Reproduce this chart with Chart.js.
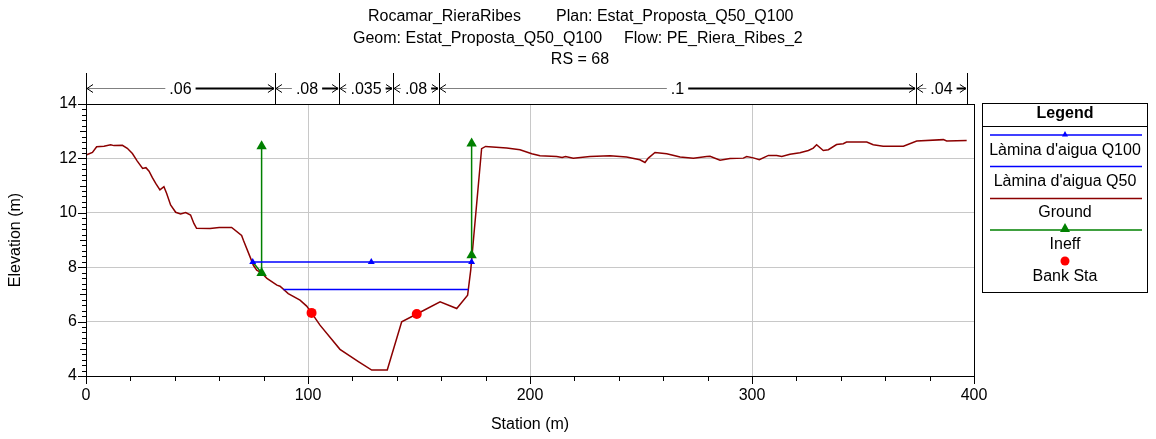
<!DOCTYPE html>
<html>
<head>
<meta charset="utf-8">
<script src="https://cdn.jsdelivr.net/npm/chart.js@4.4.1/dist/chart.umd.min.js"></script>
<style>
  html, body { margin: 0; padding: 0; background: #fff; }
  #wrap { width: 1156px; height: 439px; position: relative; }
</style>
</head>
<body>
<div id="wrap"><canvas id="c" width="1156" height="439"></canvas></div>
<script>
// ---- data ----
const groundStation = [0, 2.9, 4.8, 8.1, 11.1, 12.6, 16.4, 18.6, 20.9, 23.1, 25.5, 27.0, 28.4, 29.9, 31.4, 33.3, 35.1, 36.3, 38.1, 40.4, 42.6, 44.9, 47.1, 48.6, 49.8, 55.9, 60.0, 65.6, 70.1, 70.9, 73.9, 75.4, 76.9, 79.1, 81.5, 86.0, 87.4, 91.1, 96.4, 99.4, 101.6, 105.4, 114.4, 122.7, 128.7, 135.7, 142.2, 149.0, 159.5, 167.0, 171.9, 173.3, 178.2, 180.0, 189.5, 195.5, 200.8, 204.5, 212.0, 214.5, 216.0, 219.5, 227.0, 236.0, 243.5, 249.5, 251.8, 253.3, 256.3, 261.6, 267.6, 273.6, 279.6, 281.1, 285.6, 290.1, 296.1, 297.6, 300.6, 303.3, 307.4, 311.1, 313.4, 317.1, 321.6, 325.4, 327.6, 329.1, 332.1, 334.4, 338.1, 341.1, 342.6, 351.7, 354.6, 359.1, 368.2, 374.2, 386.2, 387.7, 396.7];
const groundElev = [12.12, 12.22, 12.43, 12.45, 12.50, 12.47, 12.48, 12.37, 12.18, 11.90, 11.63, 11.66, 11.53, 11.29, 11.08, 10.84, 10.96, 10.72, 10.29, 10.02, 9.96, 10.01, 9.92, 9.61, 9.43, 9.42, 9.46, 9.46, 9.17, 8.99, 8.38, 8.07, 7.89, 7.79, 7.59, 7.34, 7.30, 7.03, 6.79, 6.57, 6.32, 5.87, 4.98, 4.53, 4.22, 4.22, 5.99, 6.28, 6.73, 6.48, 6.97, 7.89, 12.36, 12.44, 12.38, 12.32, 12.17, 12.10, 12.07, 12.03, 12.07, 12.01, 12.07, 12.10, 12.05, 11.95, 11.85, 12.01, 12.22, 12.17, 12.05, 12.01, 12.07, 12.08, 11.93, 12.00, 12.01, 12.07, 12.02, 11.95, 12.11, 12.11, 12.07, 12.15, 12.21, 12.29, 12.38, 12.50, 12.29, 12.32, 12.51, 12.54, 12.60, 12.60, 12.50, 12.45, 12.45, 12.64, 12.69, 12.64, 12.66];

const q100Station = [75.1, 128.5, 173.7];
const q100Elev = [8.19, 8.19, 8.19];
const q50Station = [88.9, 172.2];
const q50Elev = [7.18, 7.18];

const ineffLeftStation = [75.1, 79.1, 79.1];
const ineffLeftElev = [8.19, 7.79, 12.45];
const ineffRightStation = [173.7, 173.7];
const ineffRightElev = [8.44, 12.55];

const bankStation = [101.6, 149.0];
const bankElev = [6.32, 6.28];

const nBreaks = [0, 85.1, 114.0, 138.3, 159.0, 373.9, 396.8];
const nValues = ['.06', '.08', '.035', '.08', '.1', '.04'];

const xTicksMajor = [0, 100, 200, 300, 400];
const yTicksMajor = [4, 6, 8, 10, 12, 14];

const titleLine1 = ['Rocamar_RieraRibes', 'Plan: Estat_Proposta_Q50_Q100'];
const titleLine2 = ['Geom: Estat_Proposta_Q50_Q100', 'Flow: PE_Riera_Ribes_2'];
const titleLine3 = 'RS = 68';
const legendItems = ["Làmina d'aigua Q100", "Làmina d'aigua Q50", 'Ground', 'Ineff', 'Bank Sta'];

// ---- helpers ----
const zip = (xs, ys) => xs.map((x, i) => ({ x: x, y: ys[i] }));
const FONT = '"Liberation Sans", Arial, Helvetica, sans-serif';
const FS = 16;

const C_GROUND = '#8b0000';
const C_BLUE = '#0000ff';
const C_GREEN = '#008000';
const C_RED = '#ff0000';

const extras = {
  id: 'extras',
  afterDraw(chart) {
    const ctx = chart.ctx;
    const xs = chart.scales.x, ys = chart.scales.y;
    const ca = chart.chartArea;
    ctx.save();

    // frame
    ctx.strokeStyle = '#000';
    ctx.lineWidth = 1;
    ctx.strokeRect(Math.round(ca.left) + 0.5, Math.round(ca.top) + 0.5, Math.round(ca.right - ca.left), Math.round(ca.bottom - ca.top));

    // y ticks (minor every 0.2)
    ctx.beginPath();
    for (let i = 0; i <= 50; i++) {
      const v = ys.min + i * 0.2;
      const py = Math.round(ys.getPixelForValue(v)) + 0.5;
      const major = (i % 10 === 0);
      const len = major ? 8 : (i % 5 === 0 ? 6 : 4);
      ctx.moveTo(ca.left, py);
      ctx.lineTo(ca.left - len, py);
    }
    // x ticks (minor every 20)
    for (let i = 0; i <= 20; i++) {
      const v = xs.min + i * 20;
      const px = Math.round(xs.getPixelForValue(v)) + 0.5;
      const len = (i % 5 === 0) ? 8 : 5;
      ctx.moveTo(px, ca.bottom);
      ctx.lineTo(px, ca.bottom + len);
    }
    ctx.stroke();

    // titles
    ctx.fillStyle = '#000';
    ctx.font = FS + 'px ' + FONT;
    ctx.textBaseline = 'middle';
    ctx.textAlign = 'left';
    ctx.fillText(titleLine1[0], 368, 17);
    ctx.fillText(titleLine1[1], 556, 17);
    ctx.fillText(titleLine2[0], 353, 39);
    ctx.fillText(titleLine2[1], 624, 39);
    ctx.textAlign = 'center';
    ctx.fillText(titleLine3, 580, 60);

    // axis titles
    ctx.fillText('Station (m)', (ca.left + ca.right) / 2, 425);
    ctx.save();
    ctx.translate(16, 240);
    ctx.rotate(-Math.PI / 2);
    ctx.fillText('Elevation (m)', 0, 0);
    ctx.restore();

    // Manning's n bar
    const barY = 88.5;
    ctx.strokeStyle = '#000';
    ctx.lineWidth = 1;
    nBreaks.forEach(b => {
      const px = Math.round(xs.getPixelForValue(b)) + 0.5;
      ctx.beginPath();
      ctx.moveTo(px, 73);
      ctx.lineTo(px, ca.top);
      ctx.stroke();
    });
    ctx.font = FS + 'px ' + FONT;
    for (let i = 0; i < nValues.length; i++) {
      const x0 = xs.getPixelForValue(nBreaks[i]);
      const x1 = xs.getPixelForValue(nBreaks[i + 1]);
      const cx = (x0 + x1) / 2;
      const tw = ctx.measureText(nValues[i]).width;
      const gap = 4;
      // gray left part
      ctx.strokeStyle = '#808080';
      ctx.lineWidth = 1;
      ctx.beginPath();
      ctx.moveTo(x0 + 1, barY);
      ctx.lineTo(cx - tw / 2 - gap, barY);
      ctx.stroke();
      // black right part
      ctx.strokeStyle = '#000';
      ctx.lineWidth = 2;
      ctx.beginPath();
      ctx.moveTo(cx + tw / 2 + gap, barY);
      ctx.lineTo(x1 - 1, barY);
      ctx.stroke();
      // arrowheads
      ctx.lineWidth = 1;
      ctx.beginPath();
      ctx.moveTo(x0 + 7, barY - 4);
      ctx.lineTo(x0 + 1, barY);
      ctx.lineTo(x0 + 7, barY + 4);
      ctx.moveTo(x1 - 7, barY - 4);
      ctx.lineTo(x1 - 1, barY);
      ctx.lineTo(x1 - 7, barY + 4);
      ctx.stroke();
      ctx.fillStyle = '#000';
      ctx.textAlign = 'center';
      ctx.fillText(nValues[i], cx, barY + 1);
    }

    // legend
    const L = 982.5, T = 103.5, R = 1147.5, B = 292.5;
    const lx0 = 990, lx1 = 1142, lcx = (L + R) / 2;
    ctx.strokeStyle = '#000';
    ctx.lineWidth = 1;
    ctx.strokeRect(L, T, R - L, B - T);
    ctx.beginPath();
    ctx.moveTo(L, 126.5);
    ctx.lineTo(R, 126.5);
    ctx.stroke();
    ctx.textAlign = 'center';
    ctx.font = 'bold ' + FS + 'px ' + FONT;
    ctx.fillStyle = '#000';
    ctx.fillText('Legend', lcx, 114);
    ctx.font = FS + 'px ' + FONT;
    const hline = (y, col, w) => {
      ctx.strokeStyle = col; ctx.lineWidth = w;
      ctx.beginPath(); ctx.moveTo(lx0, y); ctx.lineTo(lx1, y); ctx.stroke();
    };
    const tri = (x, y, s, col) => {
      ctx.fillStyle = col;
      ctx.beginPath();
      ctx.moveTo(x, y - s);
      ctx.lineTo(x + s, y + s * 0.8);
      ctx.lineTo(x - s, y + s * 0.8);
      ctx.closePath();
      ctx.fill();
    };
    hline(135, C_BLUE, 1.5); tri(lcx, 134, 3, C_BLUE);
    ctx.fillStyle = '#000'; ctx.fillText(legendItems[0], lcx, 151);
    hline(166.5, C_BLUE, 1.5);
    ctx.fillStyle = '#000'; ctx.fillText(legendItems[1], lcx, 182);
    hline(198.5, C_GROUND, 1.5);
    ctx.fillStyle = '#000'; ctx.fillText(legendItems[2], lcx, 213);
    hline(230, C_GREEN, 1.5); tri(lcx, 228, 5, C_GREEN);
    ctx.fillStyle = '#000'; ctx.fillText(legendItems[3], lcx, 245);
    ctx.fillStyle = C_RED;
    ctx.beginPath(); ctx.arc(lcx, 261, 4.5, 0, Math.PI * 2); ctx.fill();
    ctx.fillStyle = '#000'; ctx.fillText(legendItems[4], lcx, 277);

    ctx.restore();
  }
};

const chart = new Chart(document.getElementById('c'), {
  type: 'scatter',
  data: {
    datasets: [
      {
        label: 'Bank Sta',
        data: zip(bankStation, bankElev),
        showLine: false,
        pointRadius: 5,
        pointBackgroundColor: C_RED,
        pointBorderColor: C_RED,
        pointBorderWidth: 0,
        order: 0
      },
      {
        label: "Làmina d'aigua Q100",
        data: zip(q100Station, q100Elev),
        showLine: true,
        borderColor: C_BLUE,
        borderWidth: 1.5,
        pointStyle: 'triangle',
        pointRadius: 4,
        pointBackgroundColor: C_BLUE,
        pointBorderColor: C_BLUE,
        pointBorderWidth: 0,
        order: 1
      },
      {
        label: "Làmina d'aigua Q50",
        data: zip(q50Station, q50Elev),
        showLine: true,
        borderColor: C_BLUE,
        borderWidth: 1.5,
        pointRadius: 0,
        order: 2
      },
      {
        label: 'Ineff',
        data: zip(ineffLeftStation, ineffLeftElev),
        showLine: true,
        borderColor: C_GREEN,
        borderWidth: 1.5,
        pointStyle: 'triangle',
        pointRadius: [0, 6, 6],
        pointBackgroundColor: C_GREEN,
        pointBorderColor: C_GREEN,
        pointBorderWidth: 0,
        order: 3
      },
      {
        label: 'Ineff R',
        data: zip(ineffRightStation, ineffRightElev),
        showLine: true,
        borderColor: C_GREEN,
        borderWidth: 1.5,
        pointStyle: 'triangle',
        pointRadius: 6,
        pointBackgroundColor: C_GREEN,
        pointBorderColor: C_GREEN,
        pointBorderWidth: 0,
        order: 4
      },
      {
        label: 'Ground',
        data: zip(groundStation, groundElev),
        showLine: true,
        borderColor: C_GROUND,
        borderWidth: 1.5,
        pointRadius: 0,
        order: 5
      }
    ]
  },
  options: {
    responsive: false,
    animation: false,
    events: [],
    layout: { padding: { left: 0, top: 104, right: 182, bottom: 0 } },
    plugins: {
      legend: { display: false },
      title: { display: false },
      tooltip: { enabled: false }
    },
    scales: {
      x: {
        type: 'linear',
        min: 0, max: 400,
        afterBuildTicks: (s) => { s.ticks = xTicksMajor.map(v => ({ value: v })); },
        ticks: { color: '#000', font: { family: FONT, size: FS }, padding: 10, maxRotation: 0, autoSkip: false },
        grid: { color: '#c8c8c8', lineWidth: 1, drawTicks: false },
        border: { display: true, color: '#000' },
        afterFit: (s) => { s.height = 63; }
      },
      y: {
        type: 'linear',
        min: 4, max: 14,
        afterBuildTicks: (s) => { s.ticks = yTicksMajor.map(v => ({ value: v })); },
        ticks: { color: '#000', font: { family: FONT, size: FS }, padding: 9, autoSkip: false },
        grid: { color: '#c8c8c8', lineWidth: 1, drawTicks: false },
        border: { display: true, color: '#000' },
        afterFit: (s) => { s.width = 86; }
      }
    }
  },
  plugins: [extras]
});
</script>
</body>
</html>
